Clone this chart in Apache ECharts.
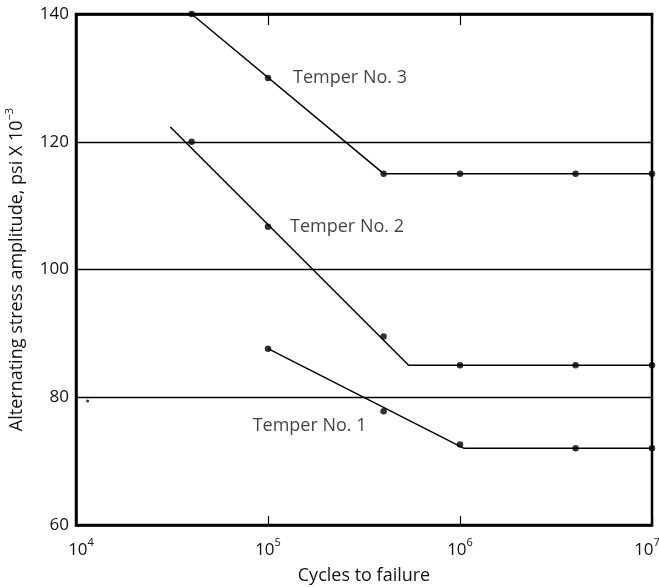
<!DOCTYPE html>
<html>
<head>
<meta charset="utf-8">
<script src="https://cdn.jsdelivr.net/npm/echarts@6/dist/echarts.min.js"></script>
<style>
html,body{margin:0;padding:0;background:#fff;}
#c{width:659px;height:587px;}
</style>
</head>
<body>
<div id="c"></div>
<script>
// ---- data ----
var temperNames = ['Temper No. 1', 'Temper No. 2', 'Temper No. 3'];

var t1PointsX = [1e5, 4e5, 1e6, 4e6, 1e7];
var t1PointsY = [87.6, 77.8, 72.6, 72, 72];
var t1LineX = [1e5, 1.05e6, 1e7];
var t1LineY = [87.6, 72, 72];

var t2PointsX = [4e4, 1e5, 4e5, 1e6, 4e6, 1e7];
var t2PointsY = [120, 106.7, 89.5, 85, 85, 85];
var t2LineX = [3.1e4, 5.4e5, 1e7];
var t2LineY = [122.3, 85, 85];

var t3PointsX = [4e4, 1e5, 4e5, 1e6, 4e6, 1e7];
var t3PointsY = [140, 130, 115, 115, 115, 115];
var t3LineX = [4e4, 4e5, 1e7];
var t3LineY = [140, 115, 115];

var strayX = [1.15e4];
var strayY = [79.4];

var yTicks = [60, 80, 100, 120, 140];
var xTickExponents = [4, 5, 6, 7];
var xTitle = 'Cycles to failure';
var yTitle = 'Alternating stress amplitude, psi X 10';
var yTitleExp = '\u22123';

function zip(xs, ys) { return xs.map(function (x, i) { return [x, ys[i]]; }); }

var chart = echarts.init(document.getElementById('c'));
var font = '"Open Sans", "Liberation Sans", Arial, sans-serif';

function lineSeries(xs, ys) {
  return {
    type: 'line', data: zip(xs, ys), symbol: 'none', clip: false,
    lineStyle: { color: '#000', width: 1.5 }, silent: true, z: 3
  };
}
function pointSeries(xs, ys, size) {
  return {
    type: 'scatter', data: zip(xs, ys), symbolSize: size, clip: false,
    itemStyle: { color: '#000' }, silent: true, z: 4
  };
}
function labelSeries(xs, ys, idx, name, pos, offset, dist) {
  return {
    type: 'scatter', data: [[xs[idx], ys[idx]]], symbolSize: 0.1, clip: false,
    itemStyle: { color: 'rgba(0,0,0,0)' }, silent: true, z: 5,
    label: {
      show: true, position: pos, distance: dist, offset: offset,
      formatter: name, color: '#111', fontSize: 18, fontFamily: font
    }
  };
}

var minExp = xTickExponents[0], maxExp = xTickExponents[xTickExponents.length - 1];

var option = {
  animation: false,
  backgroundColor: '#fff',
  grid: {
    left: 76, right: 7, top: 14, bottom: 62,
    outerBoundsMode: 'none', containLabel: false,
    show: true, borderColor: '#000', borderWidth: 2.5, backgroundColor: 'transparent'
  },
  xAxis: [{
    type: 'log', logBase: 10, min: 1e4, max: 1e7,
    name: xTitle, nameLocation: 'middle', nameGap: 42,
    nameTextStyle: { fontSize: 18, color: '#111', fontFamily: font },
    axisLine: { show: true, lineStyle: { color: '#000', width: 2.5 } },
    axisTick: { show: true, inside: true, length: 9, lineStyle: { color: '#000', width: 1.2 } },
    minorTick: { show: false },
    splitLine: { show: false },
    axisLabel: {
      margin: 12, color: '#000',
      formatter: function (v) {
        var e = Math.round(Math.log10(v));
        if (xTickExponents.indexOf(e) < 0) return '';
        var b = e === minExp ? 'bl' : 'b';
        var s = e === maxExp ? 'sr' : 's';
        return '{' + b + '|10}{' + s + '|' + e + '}';
      },
      rich: {
        b: { fontSize: 17, fontFamily: font, color: '#111', lineHeight: 22, verticalAlign: 'bottom' },
        bl: { fontSize: 17, fontFamily: font, color: '#111', lineHeight: 22, verticalAlign: 'bottom', padding: [0, 0, 0, 10] },
        s: { fontSize: 11, fontFamily: font, color: '#111', lineHeight: 22, verticalAlign: 'top' },
        sr: { fontSize: 11, fontFamily: font, color: '#111', lineHeight: 22, verticalAlign: 'top', padding: [0, 10, 0, 0] }
      }
    }
  }, {
    type: 'log', logBase: 10, min: 1e4, max: 1e7, position: 'top',
    axisLine: { show: true, lineStyle: { color: '#000', width: 2.5 } },
    axisTick: { show: true, inside: true, length: 11, lineStyle: { color: '#000', width: 1.2 } },
    axisLabel: { show: false },
    splitLine: { show: false }
  }],
  yAxis: {
    type: 'value', min: yTicks[0], max: yTicks[yTicks.length - 1], interval: 20,
    name: '{t|' + yTitle + '}{s|' + yTitleExp + '}',
    nameLocation: 'middle', nameGap: 50, nameRotate: 90,
    nameTextStyle: {
      rich: {
        t: { fontSize: 18, fontFamily: font, color: '#111', lineHeight: 22, verticalAlign: 'bottom' },
        s: { fontSize: 11, fontFamily: font, color: '#111', lineHeight: 22, verticalAlign: 'top' }
      }
    },
    axisLine: { show: true, lineStyle: { color: '#000', width: 2.5 } },
    axisTick: { show: false },
    axisLabel: { fontSize: 17, fontFamily: font, color: '#111', margin: 7 },
    splitLine: { show: true, lineStyle: { color: '#000', width: 1.3 } }
  },
  series: [
    lineSeries(t1LineX, t1LineY),
    lineSeries(t2LineX, t2LineY),
    lineSeries(t3LineX, t3LineY),
    pointSeries(t1PointsX, t1PointsY, 6.5),
    pointSeries(t2PointsX, t2PointsY, 6.5),
    pointSeries(t3PointsX, t3PointsY, 6.5),
    pointSeries(strayX, strayY, 3),
    labelSeries(t1PointsX, t1PointsY, 1, temperNames[0], 'left', [0, 15], 17),
    labelSeries(t2PointsX, t2PointsY, 1, temperNames[1], 'right', [0, 0], 22),
    labelSeries(t3PointsX, t3PointsY, 1, temperNames[2], 'right', [0, 0], 25)
  ]
};
chart.setOption(option);
</script>
</body>
</html>
